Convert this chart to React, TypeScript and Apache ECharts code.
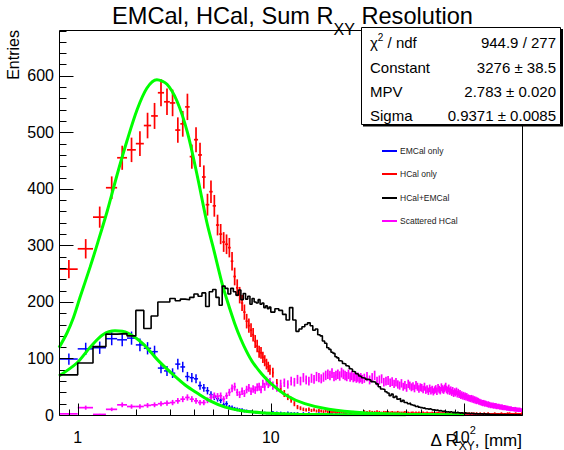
import React, { useEffect, useRef } from 'react';
import * as echarts from 'echarts';

const X_MIN = 0.8;
const X_MAX = 200;
const Y_MAX = 681;
const ROOT_BIN_WIDTH = 0.2;
const FONT = '"Liberation Sans", Arial, Helvetica, sans-serif';

// histogram bins: [low, high, width]; counts are per 0.2 mm bin
const binSegments: [number, number, number][] = [[0.8, 10, 0.2], [10, 30, 0.5], [30, 200, 1]];

const emcalA = [99,117,119,135,133,136,124,118,112,83, 78,74,90,85,68,66,64,52,48,43, 36,32,29,26,18,20,14,13,11,10, 9,9,7,7,6,6,5,5,4,4, 4,3,4,3,3,3];
const emcalB = [5,4,4,3,4,3,3,3,2,3, 2,3,2,2,2,3,2,2,2,1, 2,2,1,2,1,2,1,1,2,1, 1,2,1,1,1,1,2,1,1,1];
const emcalC = [
  1,2,1,1,2,1,1,1,1,2, 1,1,1,2,1,1,1,0,1,1, 1,1,0,1,1,1,1,0,1,1, 1,0,1,1,0,1,1,1,0,1,
  1,1,0,1,0,1,1,0,1,1, 0,1,1,0,1,1,0,1,0,1, 1,0,1,1,0,1,0,1,1,0, 1,0,1,0,1,1,0,1,0,1,
  0,1,1,0,1,0,1,0,1,1, 0,1,0,1,1,0,1,0,1,0, 1,0,1,0,1,0,1,1,0,1, 0,1,0,1,0,1,0,1,1,0,
  1,0,1,0,1,0,1,0,1,0, 0,1,0,1,1,0,1,0,0,1, 1,0,1,0,0,1,0,1,0,1, 0,1,0,1,0,0,1,0,1,0,
  1,0,0,1,0,1,0,0,1,0];

const hcalA = [258,294,350,402,455,469,480,512,529,570, 554,552,504,515,545,457,487,460,421,372, 395,370,336,320,306,302,296,272,245,225, 212,198,182,166,158,150,142,130,122,112, 110,102,96,90,85,80];
const hcalB = [75,56,46,38,32,27,20,14,12,10, 9,10,8,9,7,8,7,6,7,6, 6,5,6,5,5,6,5,4,5,4, 5,4,4,5,4,4,3,4,4,3];
const hcalC = [
  6,5,6,5,5,6,5,4,5,5, 5,4,5,4,4,5,4,4,4,5, 4,4,3,4,4,3,4,3,4,3, 3,4,3,3,4,3,3,3,4,3,
  3,3,3,4,3,3,3,3,3,3, 3,3,2,3,3,3,2,3,3,2, 3,2,3,3,2,3,2,3,2,3, 2,3,2,3,2,2,3,2,2,3,
  2,2,3,2,2,2,3,2,2,2, 2,3,2,2,2,2,2,3,2,2, 2,2,2,3,2,2,2,2,2,2, 2,2,2,2,3,2,2,2,2,2,
  2,2,2,2,2,2,3,2,2,2, 2,2,2,2,2,2,2,2,3,2, 2,2,3,2,2,2,2,2,2,2, 2,2,2,2,2,3,2,2,2,2,
  2,2,2,2,2,2,2,2,2,3];

const sumA = [71,92,121,143,144,140,185,153,175,200, 200,206,202,205,204,208,214,210,216,192, 218,222,208,194,228,224,214,224,218,212, 221,204,215,205,210,196,206,200,198,204, 196,198,190,193,188,191];
const sumB = [182,188,185,178,168,190,168,148,152,156, 160,163,158,150,152,142,140,131,127,119, 116,111,109,103,101,96,95,91,90,87, 86,82,81,77,76,73,72,69,68,66];
const sumC = [
  65,63,62,59,58,55,50,46,45,41, 39,34,37,31,33,28,29,24,26,22, 22,20,21,18,17,17,15,16,14,13, 13,12,13,11,11,10,11,10,9,9,
  9,8,9,8,7,8,7,6,7,6, 6,5,6,5,5,6,5,4,5,4, 4,4,5,4,4,3,4,4,3,3, 3,4,3,3,3,3,3,2,3,3,
  3,2,3,2,2,3,2,2,2,2, 2,2,2,2,2,1,2,2,2,1, 2,1,2,1,1,2,1,1,1,1, 1,1,1,1,1,1,1,1,1,1,
  1,1,1,0,1,1,1,1,0,1, 1,0,1,1,0,1,1,0,1,1, 0,1,1,0,1,0,1,0,1,0, 1,0,0,1,0,1,0,0,1,0,
  0,1,0,0,1,0,0,1,0,0];

const scatA = [2,13,1,10,18,15,15,17,18,20, 21,22,25,28,31,28,25,22,22,26, 31,34,33,34,28,34,40,47,50,40, 36,42,38,45,48,42,46,44,49,50, 45,55,50,60,55,58];
const scatB = [52,48,55,57,54,60,58,63,60,66, 62,60,65,63,68,66,64,67,70,72, 70,74,68,70,72,69,75,72,70,68, 72,67,70,66,68,65,67,64,66,63];
const scatC = [
  65,68,62,66,70,60,62,64,58,60, 61,57,59,55,58,54,52,56,50,53, 48,55,52,49,51,47,53,50,46,49, 48,45,50,44,46,42,47,43,45,41,
  44,46,42,48,45,43,49,46,44,47, 50,45,43,47,42,44,40,43,38,41, 39,42,37,40,36,38,34,36,33,35, 32,34,31,33,30,31,29,30,28,30,
  27,29,26,28,25,27,24,26,25,23, 24,22,23,21,22,20,22,21,19,21, 20,19,18,20,17,19,18,16,18,17, 16,18,15,17,16,15,17,14,16,15,
  14,16,15,13,15,14,13,15,12,14, 13,12,14,13,12,13,11,12,13,11, 12,11,12,10,11,12,10,11,10,11, 10,11,9,10,11,9,10,9,10,9,
  9,10,8,9,10,8,9,8,9,8];

// green fit curves
const hcalFitX = [0.8,0.88,0.95,1.03,1.16,1.27,1.42,1.6,1.8,2.03,2.28,2.57,2.9,3.27,3.7,4.15,4.67,5.06,5.6,6.0,6.5,7.0,7.5,8.0,9.0,10,12,15,20,30,50,100];
const hcalFitY = [119,145,172,209,262,305,360,425,485,540,578,593,585,555,500,425,340,293,232,198,162,134,112,95,72,56,35,20,10,4,1.5,0.4];
const emcalFitX = [0.8,0.99,1.16,1.35,1.56,1.82,2.18,2.6,3.08,3.6,4.15,4.85,5.8,6.95,8.9,11,14,20,30,50];
const emcalFitY = [69,92,120,142,149,145,126,97,73,53,39,25,14,8,4,2.5,1.5,0.8,0.35,0.12];

const xMajorTicks = [1, 10, 100];
const xMinorTicks = [0.9, 2, 3, 4, 5, 6, 7, 8, 9, 20, 30, 40, 50, 60, 70, 80, 90, 200];
const yMajorTicks = [0, 100, 200, 300, 400, 500, 600];
const yMinorTicks = [20,40,60,80,120,140,160,180,220,240,260,280,320,340,360,380,420,440,460,480,520,540,560,580,620,640,660,680];

const legendNames = ['EMCal only', 'HCal only', 'HCal+EMCal', 'Scattered HCal'];
const legendColors = ['#0000ff', '#ff0000', '#000000', '#ff00ff'];

const statNames = ['Constant', 'MPV', 'Sigma'];
const statValues = ['944.9 / 277', '3276 ± 38.5', '2.783 ± 0.020', '0.9371 ± 0.0085'];

function makeBins() {
  const bins: { lo: number; hi: number; c: number }[] = [];
  for (const [a, b, w] of binSegments) {
    const n = Math.round((b - a) / w);
    for (let i = 0; i < n; i++) {
      const lo = +(a + i * w).toFixed(4);
      const hi = +(a + (i + 1) * w).toFixed(4);
      bins.push({ lo, hi, c: (lo + hi) / 2 });
    }
  }
  return bins;
}

export default function App() {
  const ref = useRef<HTMLDivElement>(null);
  useEffect(() => {
    const el = ref.current!;
    const chart = echarts.init(el, undefined, { renderer: 'svg', width: 564, height: 450 });
    const ctx = document.createElement('canvas').getContext('2d')!;
    const measure = (t: string, size: number) => { ctx.font = `${size}px ${FONT}`; return ctx.measureText(t).width; };

    const bins = makeBins();
    const emcal = [...emcalA, ...emcalB, ...emcalC];
    const hcal = [...hcalA, ...hcalB, ...hcalC];
    const sum = [...sumA, ...sumB, ...sumC];
    const scat = [...scatA, ...scatB, ...scatC];

    const errorSeries = (name: string, vals: number[], color: string, lw: number) => ({
      type: 'custom', name, clip: true, silent: true,
      data: bins.map((b, i) => [b.c, vals[i], Math.sqrt(vals[i])]).filter(d => d[1] > 0),
      encode: { x: 0, y: 1 },
      renderItem: (params: any, api: any) => {
        const x = api.value(0), v = api.value(1), e = api.value(2);
        const c = api.coord([x, v]);
        const t = api.coord([x, v + e]);
        const bt = api.coord([x, Math.max(v - e, 0)]);
        const l = api.coord([x - ROOT_BIN_WIDTH / 2, v]);
        const r = api.coord([x + ROOT_BIN_WIDTH / 2, v]);
        return {
          type: 'group', children: [
            { type: 'line', shape: { x1: c[0], y1: t[1], x2: c[0], y2: bt[1] }, style: { stroke: color, lineWidth: lw } },
            { type: 'line', shape: { x1: l[0], y1: c[1], x2: r[0], y2: c[1] }, style: { stroke: color, lineWidth: lw } },
          ],
        };
      },
    });

    const fitSeries = (xs: number[], ys: number[]) => ({
      type: 'line', data: xs.map((x, i) => [x, ys[i]]), smooth: 0.3, symbol: 'none', silent: true,
      lineStyle: { color: '#00ff00', width: 3 }, clip: true,
    });

    const steps: number[][] = [];
    bins.forEach((b, i) => { steps.push([b.lo, sum[i]]); steps.push([b.hi, sum[i]]); });

    const tickData: number[][] = [
      ...xMajorTicks.map(v => [v, 0, 0, 12]),
      ...xMinorTicks.map(v => [v, 0, 0, 6]),
      ...yMajorTicks.map(v => [X_MIN, v, 1, 14]),
      ...yMinorTicks.map(v => [X_MIN, v, 1, 7]),
    ];

    const w10 = measure('10', 16);
    const w2 = measure('2', 11);

    const option: any = {
      animation: false,
      grid: { left: 59, right: 42, top: 30, bottom: 35 },
      xAxis: {
        type: 'log', logBase: 10, min: X_MIN, max: X_MAX,
        axisLine: { show: false }, axisTick: { show: false }, axisLabel: { show: false }, splitLine: { show: false },
      },
      yAxis: {
        type: 'value', min: 0, max: Y_MAX, interval: 100,
        axisLine: { show: false }, axisTick: { show: false }, splitLine: { show: false },
        axisLabel: {
          margin: 5, fontSize: 16, color: '#000', fontFamily: FONT,
          formatter: (v: number) => (v % 100 === 0 && v <= 600 ? String(v) : ''),
        },
      },
      series: [
        errorSeries('EMCal only', emcal, '#0000ff', 1.5),
        fitSeries(emcalFitX, emcalFitY),
        errorSeries('HCal only', hcal, '#ff0000', 1.7),
        fitSeries(hcalFitX, hcalFitY),
        { type: 'line', name: 'HCal+EMCal', data: steps, symbol: 'none', silent: true, clip: true, lineStyle: { color: '#000', width: 1.6 } },
        errorSeries('Scattered HCal', scat, '#ff00ff', 1.7),
        {
          type: 'custom', name: 'ticks', clip: false, silent: true, data: tickData, encode: { x: 0, y: 1 },
          renderItem: (params: any, api: any) => {
            const p = api.coord([api.value(0), api.value(1)]);
            const kind = api.value(2), len = api.value(3);
            const px = Math.round(p[0]) + 0.5, py = Math.round(p[1]) + 0.5;
            const shape = kind === 0 ? { x1: px, y1: py, x2: px, y2: py - len } : { x1: px, y1: py, x2: px + len, y2: py };
            return { type: 'line', shape, style: { stroke: '#000', lineWidth: 1 } };
          },
        },
        {
          type: 'custom', name: 'xlabels', clip: false, silent: true,
          data: xMajorTicks.map(v => [v, 0]), encode: { x: 0, y: 1 },
          renderItem: (params: any, api: any) => {
            const v = api.value(0);
            const p = api.coord([v, 0]);
            const y = p[1] + 22;
            if (v > 50) {
              const total = w10 + w2;
              const x0 = p[0] - total / 2;
              return {
                type: 'group', children: [
                  { type: 'text', x: x0, y, style: { text: '10', fontSize: 16, fontFamily: FONT, fill: '#000', align: 'left', verticalAlign: 'middle' } },
                  { type: 'text', x: x0 + w10, y: y - 7, style: { text: '2', fontSize: 11, fontFamily: FONT, fill: '#000', align: 'left', verticalAlign: 'middle' } },
                ],
              };
            }
            return { type: 'text', x: p[0], y, style: { text: String(v), fontSize: 16, fontFamily: FONT, fill: '#000', align: 'center', verticalAlign: 'middle' } };
          },
        },
      ],
      graphic: [],
    };

    const g: any[] = [];
    // frame
    g.push({ type: 'rect', shape: { x: 59.5, y: 30.5, width: 463, height: 385 }, style: { fill: 'none', stroke: '#000', lineWidth: 1 }, z: 50, silent: true });
    // title
    const tA = 'EMCal, HCal, Sum R', tB = 'XY', tC = ' Resolution';
    const tx0 = 112;
    const wA = measure(tA, 23.6), wB = measure(tB, 16);
    g.push({ type: 'text', x: tx0, y: 16, style: { text: tA, fontSize: 23.6, fontFamily: FONT, fill: '#000', align: 'left', verticalAlign: 'middle' }, z: 60 });
    g.push({ type: 'text', x: tx0 + wA, y: 29, style: { text: tB, fontSize: 16, fontFamily: FONT, fill: '#000', align: 'left', verticalAlign: 'middle' }, z: 60 });
    g.push({ type: 'text', x: tx0 + wA + wB, y: 16, style: { text: tC, fontSize: 23.6, fontFamily: FONT, fill: '#000', align: 'left', verticalAlign: 'middle' }, z: 60 });
    // y title
    g.push({ type: 'text', x: 13, y: 30, rotation: Math.PI / 2, style: { text: 'Entries', fontSize: 16, fontFamily: FONT, fill: '#000', align: 'right', verticalAlign: 'middle' }, z: 60 });
    // x title
    const xA = 'Δ R', xB = 'XY', xC = ', [mm]';
    const wxA = measure(xA, 17), wxB = measure(xB, 12), wxC = measure(xC, 17);
    const xx0 = 522 - (wxA + wxB + wxC);
    g.push({ type: 'text', x: xx0, y: 440, style: { text: xA, fontSize: 17, fontFamily: FONT, fill: '#000', align: 'left', verticalAlign: 'middle' }, z: 60 });
    g.push({ type: 'text', x: xx0 + wxA, y: 446, style: { text: xB, fontSize: 12, fontFamily: FONT, fill: '#000', align: 'left', verticalAlign: 'middle' }, z: 60 });
    g.push({ type: 'text', x: xx0 + wxA + wxB, y: 440, style: { text: xC, fontSize: 17, fontFamily: FONT, fill: '#000', align: 'left', verticalAlign: 'middle' }, z: 60 });
    // legend
    const legY = [151, 174, 198, 221];
    legendNames.forEach((n, i) => {
      g.push({ type: 'line', shape: { x1: 382, y1: legY[i], x2: 397, y2: legY[i] }, style: { stroke: legendColors[i], lineWidth: 2 }, z: 60 });
      g.push({ type: 'text', x: 400, y: legY[i], style: { text: n, fontSize: 8.5, fontFamily: FONT, fill: '#222', align: 'left', verticalAlign: 'middle' }, z: 60 });
    });
    // stats box
    g.push({ type: 'line', shape: { x1: 363, y1: 125.5, x2: 563, y2: 125.5 }, style: { stroke: '#000', lineWidth: 2 }, z: 70 });
    g.push({ type: 'line', shape: { x1: 562, y1: 29, x2: 562, y2: 126 }, style: { stroke: '#000', lineWidth: 2 }, z: 70 });
    g.push({ type: 'rect', shape: { x: 361.5, y: 27.5, width: 199, height: 97 }, style: { fill: '#fff', stroke: '#000', lineWidth: 1 }, z: 71 });
    const rowY = [42, 67, 91, 115];
    const wChi = measure('χ', 15), wSup = measure('2', 10);
    g.push({ type: 'text', x: 370, y: rowY[0], style: { text: 'χ', fontSize: 15, fontFamily: FONT, fill: '#000', align: 'left', verticalAlign: 'middle' }, z: 72 });
    g.push({ type: 'text', x: 370 + wChi, y: rowY[0] - 5, style: { text: '2', fontSize: 10, fontFamily: FONT, fill: '#000', align: 'left', verticalAlign: 'middle' }, z: 72 });
    g.push({ type: 'text', x: 370 + wChi + wSup, y: rowY[0], style: { text: ' / ndf', fontSize: 15, fontFamily: FONT, fill: '#000', align: 'left', verticalAlign: 'middle' }, z: 72 });
    statNames.forEach((n, i) => {
      g.push({ type: 'text', x: 370, y: rowY[i + 1], style: { text: n, fontSize: 15, fontFamily: FONT, fill: '#000', align: 'left', verticalAlign: 'middle' }, z: 72 });
    });
    statValues.forEach((v, i) => {
      g.push({ type: 'text', x: 556, y: rowY[i], style: { text: v, fontSize: 15, fontFamily: FONT, fill: '#000', align: 'right', verticalAlign: 'middle' }, z: 72 });
    });
    option.graphic = g;

    chart.setOption(option);
    return () => chart.dispose();
  }, []);
  return <div ref={ref} style={{ position: 'absolute', left: 0, top: 0, width: 564, height: 450, background: '#fff' }} />;
}
